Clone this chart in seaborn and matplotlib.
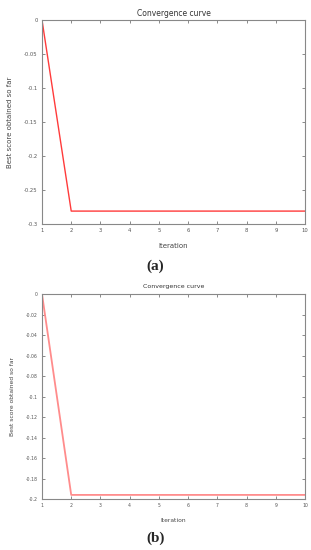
import numpy as np
import pandas as pd
import matplotlib
matplotlib.use('Agg')
import matplotlib.pyplot as plt
import seaborn as sns

# data
iterations = [1, 2, 3, 4, 5, 6, 7, 8, 9, 10]
score_a = [0, -0.281, -0.281, -0.281, -0.281, -0.281, -0.281, -0.281, -0.281, -0.281]
score_b = [0, -0.196, -0.196, -0.196, -0.196, -0.196, -0.196, -0.196, -0.196, -0.196]
yticks_a = [0, -0.05, -0.1, -0.15, -0.2, -0.25, -0.3]
yticks_b = [0, -0.02, -0.04, -0.06, -0.08, -0.1, -0.12, -0.14, -0.16, -0.18, -0.2]

sns.set_style('ticks')
plt.rcParams['font.family'] = ['DejaVu Sans']
plt.rcParams['axes.unicode_minus'] = False

fig = plt.figure(figsize=(3.11, 5.5), dpi=100)
ax_a = fig.add_axes([0.135, 0.5927, 0.846, 0.371])
ax_b = fig.add_axes([0.135, 0.0927, 0.846, 0.3727])

panels = [
    (ax_a, score_a, yticks_a, (-0.3, 0), '#ff3b3b', 1.0, 5.5, 5.0, 3.8, 3),
    (ax_b, score_b, yticks_b, (-0.2, 0), '#ff8c8c', 1.3, 4.5, 4.3, 3.3, 4),
]

for ax, score, yt, ylim, col, lw, tfs, lfs, tkfs, tpad in panels:
    df = pd.DataFrame({'Iteration': iterations, 'score': score})
    sns.lineplot(data=df, x='Iteration', y='score', color=col, linewidth=lw, ax=ax)
    ax.set_xlim(1, 10)
    ax.set_ylim(*ylim)
    ax.set_xticks(iterations)
    ax.set_xticklabels([str(i) for i in iterations])
    ax.set_yticks(yt)
    ax.set_yticklabels([('%g' % v) for v in yt])
    ax.tick_params(direction='in', top=True, right=True, length=2, width=0.6,
                   color='#777777', labelcolor='#555555', labelsize=tkfs, pad=3)
    for sp in ax.spines.values():
        sp.set_color('#888888')
        sp.set_linewidth(0.8)
    ax.set_title('Convergence curve', fontsize=tfs, color='#333333', pad=tpad)
    ax.set_xlabel('Iteration', fontsize=lfs, color='#444444', labelpad=7)
    ax.set_ylabel('Best score obtained so far', fontsize=lfs, color='#444444', labelpad=8)

fig.text(0.5, 1 - 266 / 550, '(a)', ha='center', va='center', fontsize=11,
         family='Liberation Serif', fontweight='bold')
fig.text(0.5, 1 - 538 / 550, '(b)', ha='center', va='center', fontsize=11,
         family='Liberation Serif', fontweight='bold')

fig.savefig('out.png', dpi=100)
